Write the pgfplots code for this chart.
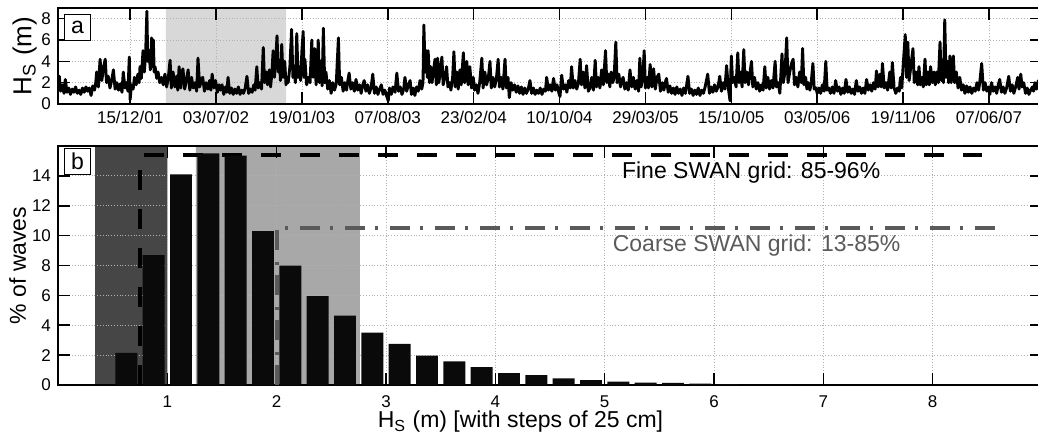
\documentclass[border=0pt]{standalone}
\usepackage{fontspec}
\setmainfont{Liberation Sans}
\usepackage{pgfplots}
\pgfplotsset{compat=1.18}

\definecolor{darkshade}{RGB}{70,70,70}
\definecolor{lightshade}{RGB}{168,168,168}
\definecolor{paleshade}{RGB}{216,216,216}
\definecolor{barblack}{RGB}{10,10,10}
\definecolor{coarsegray}{RGB}{90,90,90}

\pgfplotsset{
  panel/.style={
    scale only axis,
    width=492pt,
    axis line style={line width=1pt},
    tick style={line width=0.8pt, black},
    major tick length=6pt,
    tick align=inside,
    grid=major,
    major grid style={densely dotted, black!30, line width=0.4pt},
    tick label style={font=\fontsize{8.5}{10}\selectfont},
    label style={font=\fontsize{11.5}{13}\selectfont},
    /pgf/number format/assume math mode=true,
    set layers,
  },
}
\tikzset{
  boxlabel/.style={draw, line width=0.6pt, fill=white, font=\fontsize{11.5}{13}\selectfont,
    minimum width=13pt, minimum height=13pt, inner sep=1pt, anchor=north west},
}

\begin{document}
\begin{tikzpicture}

% (a) significant wave height time series, x = days since 15/12/01
\begin{axis}[panel, at={(0,140.5pt)}, anchor=south west, height=48pt,
  xmin=-168, xmax=2123.5, ymin=0, ymax=9,
  xtick={0,200,...,2000},
  xticklabels={15/12/01,03/07/02,19/01/03,07/08/03,23/02/04,10/10/04,29/03/05,15/10/05,03/05/06,19/11/06,07/06/07},
  ytick={0,2,4,6,8},
  ylabel={H\textsubscript{S} (m)},
  ylabel style={at={(axis description cs:-0.034,0.5)}, anchor=center, font=\fontsize{13}{15}\selectfont},
]
\addplot[on layer=axis background, fill=paleshade, draw=none]
  coordinates {(83,0) (83,9) (363,9) (363,0)} \closedcycle;
\addplot[black, line width=1.45pt, line join=round] coordinates {
(-168,1.6) (-165,2.6) (-162,1.2) (-158,1.8) (-154,1.0) (-151,2.3) (-147,1.1) (-143,1.5) (-139,0.9) (-135,1.4)
(-131,1.1) (-127,1.6) (-123,1.0) (-119,1.3) (-115,0.9) (-111,1.5) (-107,1.1) (-103,1.6) (-99,1.2) (-95,1.5)
(-91,0.8) (-87,1.7) (-83,1.3) (-80,2.0)
(-78,3.0) (-74,1.6) (-70,4.2) (-66,2.2) (-62,3.4) (-58,4.2) (-55,2.0) (-51,2.6) (-47,1.5) (-43,2.2)
(-39,3.2) (-35,1.4) (-31,2.0) (-27,1.3) (-23,1.9) (-19,1.1) (-16,3.0) (-12,1.5) (-9,2.0) (-5,1.2) (-2,4.4) (0,0.4)
(3,1.8) (7,1.4) (10,2.5) (14,1.8) (18,2.8) (21,2.0) (23,3.5) (26,2.4) (30,5.0) (33,3.0) (36,4.6) (39,8.7)
(41,4.0) (44,5.0) (47,3.2) (50,6.2) (52,3.5) (54,6.0) (56,3.0) (58,3.5) (62,2.4) (65,3.0) (69,2.0) (73,2.5)
(77,1.8) (81,2.8)
(85,1.6) (89,2.5) (93,4.1) (96,1.5) (100,3.0) (104,1.6) (108,2.6) (111,1.3) (114,3.5) (118,1.5) (120,2.8)
(123,3.3) (127,1.4) (131,2.2) (135,3.2) (139,1.3) (143,2.5) (147,1.5) (151,2.0) (155,1.2) (158,4.3) (162,1.6)
(166,2.3) (169,2.5) (173,1.2) (177,2.0) (181,1.4) (185,2.2) (188,1.3) (191,2.8) (195,1.5) (199,2.2) (203,1.1)
(207,1.8) (210,1.3) (214,1.8) (218,0.9) (222,1.6) (225,1.1) (228,2.5) (232,1.0) (236,1.5) (240,0.9) (244,1.4)
(248,1.0) (252,1.6) (256,0.9) (260,1.3) (264,1.0) (268,1.5) (272,2.6) (276,1.0) (280,1.4) (284,1.1) (288,1.8)
(291,1.3) (295,3.5) (298,1.5) (302,2.0) (306,1.4) (310,5.3) (313,2.0) (317,3.0) (320,1.8) (324,3.2) (327,1.6)
(330,2.8) (333,5.0) (336,2.5) (339,4.0) (342,6.4) (345,3.0) (348,4.0) (350,2.2) (353,5.6) (356,2.5) (360,4.0)
(363,1.8) (366,2.5) (368,2.0) (372,3.5) (376,7.0) (379,2.5) (382,3.0) (385,2.0) (388,6.6) (391,2.5) (394,3.5)
(397,2.2) (400,5.0)
(403,6.8) (405,2.5) (407,4.2) (411,1.8) (415,2.5) (419,2.0) (423,6.0) (426,2.5) (430,5.2) (433,1.8) (436,3.0)
(438,6.0) (441,2.0) (444,4.0) (447,1.7) (450,7.1) (453,2.0) (456,3.0) (460,1.4) (464,2.2) (468,1.0) (472,2.0)
(476,1.3) (480,1.9) (485,6.2) (488,1.8) (492,2.5) (496,1.2) (500,2.0) (504,1.3) (507,2.2) (510,2.9) (514,1.4)
(518,2.0) (522,1.2) (526,2.3) (530,1.3) (534,1.8) (538,1.0) (541,1.7) (545,2.2) (549,1.2) (553,1.8) (557,1.0)
(561,1.5) (565,2.8) (569,1.0) (573,1.6) (577,0.9) (581,1.4) (585,1.8) (589,0.9) (593,1.3) (597,0.8) (601,0.3)
(604,1.5) (608,0.9) (612,1.6) (617,1.1) (621,2.9) (625,1.2) (629,1.6) (633,0.9) (637,1.4) (640,2.5) (644,1.2)
(648,1.8) (652,2.2) (655,0.9) (659,1.5) (663,0.8) (667,1.6) (671,1.2) (675,2.2) (679,1.4) (682,2.0) (684,7.4)
(687,3.0) (690,5.0) (692,2.5) (694,5.0) (697,2.0) (700,3.5) (703,2.0) (706,3.0) (710,4.2) (713,1.8) (716,4.3)
(719,2.0) (722,3.0) (726,4.4) (729,1.8) (733,2.5) (737,3.5) (740,1.6) (744,2.0) (747,1.3) (751,2.5) (754,4.9)
(757,1.6) (761,3.0) (764,1.4) (768,3.2) (771,1.8) (776,4.8) (779,2.0) (784,4.0) (787,1.8) (791,3.5) (795,1.5)
(799,2.5)
(802,1.3) (806,1.8) (810,1.0) (814,2.0) (819,4.3) (822,1.5) (826,3.0) (830,1.8) (834,2.4) (838,4.0) (841,1.5)
(845,2.5) (849,1.6) (853,2.4) (857,4.2) (860,1.6) (864,2.5) (868,1.4) (873,4.2) (876,1.5) (880,2.5) (883,0.6)
(887,2.0) (891,1.3) (895,1.8) (899,1.1) (903,1.7) (907,1.0) (911,1.6) (915,0.9) (919,1.5) (923,1.0) (927,1.4)
(931,2.2) (935,1.0) (939,1.5) (943,0.9) (947,1.3) (951,1.0) (955,1.5) (959,0.9) (963,1.4) (967,1.2) (970,2.5)
(974,1.3) (978,1.8) (982,1.2) (986,2.4) (990,1.3) (994,1.8) (998,1.1) (1001,0.7)
(1005,2.7) (1009,1.4) (1013,1.8) (1017,1.1) (1021,2.2) (1025,1.5) (1028,3.5) (1032,1.5) (1036,2.2) (1040,1.4)
(1044,2.0) (1048,4.2) (1051,1.8) (1055,3.0) (1059,1.5) (1063,3.6) (1067,1.2) (1071,1.5) (1075,2.5) (1079,1.3)
(1083,4.1) (1086,1.6) (1090,2.5) (1094,1.5) (1098,3.2) (1102,1.8) (1107,5.0) (1110,2.0) (1114,2.8) (1117,1.6)
(1120,3.0) (1124,2.0) (1127,2.5) (1131,5.8) (1134,2.0) (1138,2.8) (1142,1.6) (1145,2.2) (1148,2.5) (1152,1.4)
(1156,2.0) (1160,1.3) (1164,3.2) (1168,1.6) (1172,2.5) (1176,1.4) (1180,2.2) (1184,1.2) (1187,4.3) (1190,1.6)
(1194,2.5) (1197,5.0) (1200,1.5)
(1204,2.5) (1207,1.5) (1211,3.7) (1215,1.6) (1219,3.3) (1223,1.4) (1227,2.5) (1231,2.8) (1235,1.2) (1239,2.0)
(1243,1.3) (1246,2.0) (1249,2.4) (1253,1.1) (1257,1.7) (1261,1.0) (1265,1.5) (1269,0.9) (1273,1.6) (1277,1.0)
(1281,1.4) (1285,0.8) (1289,1.5) (1293,1.0) (1299,2.6) (1303,1.0) (1307,1.4) (1311,0.8) (1315,1.3) (1319,0.9)
(1323,1.5) (1327,0.8) (1331,1.3) (1335,1.0) (1339,1.6) (1345,2.8) (1349,1.0) (1353,1.6) (1357,1.1) (1361,1.8)
(1365,1.2) (1369,1.6) (1373,2.6) (1377,1.2) (1381,2.0) (1385,1.4) (1389,3.6) (1393,1.5) (1397,0.3) (1400,4.5)
(1403,2.0) (1407,2.5) (1411,1.6) (1415,4.8) (1418,2.0) (1422,3.0) (1425,1.6) (1429,5.1) (1432,2.0) (1436,3.0)
(1440,1.8) (1443,2.8) (1447,4.0) (1450,1.6) (1454,2.5) (1458,1.4) (1462,2.0) (1466,1.2) (1470,1.8) (1474,1.3)
(1478,3.5) (1481,1.5) (1485,2.5) (1489,1.4) (1493,2.2) (1497,1.5) (1502,4.0) (1505,1.6) (1509,2.0) (1513,1.0)
(1518,4.7) (1521,2.0) (1525,3.0) (1529,6.2) (1532,2.0) (1536,3.0) (1540,3.8) (1544,4.2) (1547,1.8) (1551,2.5)
(1555,1.6) (1559,3.0) (1563,2.0) (1566,5.2) (1569,1.8) (1573,2.5) (1576,1.4) (1579,2.0) (1583,1.3) (1586,2.0)
(1590,3.8) (1593,1.4) (1597,1.5) (1600,1.0)
(1604,1.5) (1608,1.0) (1612,1.8) (1616,1.2) (1620,4.0) (1623,1.3) (1627,1.5) (1631,1.0) (1635,1.6) (1639,1.0)
(1643,2.2) (1647,1.2) (1651,1.6) (1655,0.9) (1659,1.5) (1663,1.0) (1667,2.3) (1671,1.1) (1675,1.6) (1679,1.0)
(1683,1.4) (1687,0.9) (1691,2.2) (1695,1.2) (1699,1.6) (1703,1.0) (1707,1.5) (1711,1.0) (1715,2.3) (1719,1.3)
(1723,1.8) (1727,1.2) (1731,2.0) (1735,1.4) (1738,3.1) (1742,1.6) (1746,2.8) (1749,1.6) (1752,3.8) (1756,1.5)
(1760,2.0) (1764,1.3) (1769,3.0) (1772,1.5) (1775,3.9) (1779,1.5) (1783,1.0) (1787,1.5) (1791,1.2) (1794,2.5)
(1797,1.5) (1800,3.5)
(1805,6.5) (1808,2.5) (1811,5.8) (1814,2.2) (1818,3.5) (1823,5.2) (1826,2.0) (1830,3.0) (1834,1.8) (1837,3.5)
(1840,1.8) (1844,2.5) (1847,1.6) (1851,4.2) (1854,1.8) (1858,3.0) (1861,1.8) (1864,3.5) (1868,2.0) (1872,3.0)
(1875,1.8) (1878,3.0) (1882,2.0) (1886,5.8) (1889,2.2) (1892,3.0) (1894,2.0) (1897,7.9) (1900,2.5) (1904,4.0)
(1906,2.0) (1909,4.5) (1912,2.0) (1917,4.5) (1920,2.0) (1924,3.0) (1928,1.5) (1932,2.5) (1936,1.3) (1940,1.8)
(1944,1.0) (1948,1.7) (1952,1.1) (1956,1.6) (1960,1.0) (1964,1.5) (1968,1.2) (1972,2.0) (1976,1.3) (1979,2.2)
(1983,3.8) (1987,1.3) (1991,2.0) (1995,1.2) (1999,1.6) (2002,0.9)
(2006,2.0) (2010,1.2) (2014,1.6) (2018,1.0) (2021,1.7) (2025,2.3) (2029,1.1) (2033,1.6) (2037,1.0) (2041,1.5)
(2046,2.6) (2050,1.2) (2054,1.8) (2058,1.0) (2062,1.6) (2067,2.5) (2070,1.4) (2074,2.8) (2077,1.6) (2081,2.0)
(2085,1.0) (2089,1.5) (2093,0.9) (2097,1.3) (2101,1.6) (2104,1.2) (2107,2.0) (2111,1.4) (2115,2.2) (2119,1.3)
(2123,1.8)
};
\node[boxlabel] at (rel axis cs:0,1) [xshift=3pt, yshift=-3pt] {a};
\end{axis}

% (b) histogram of Hs in 25 cm bins
\begin{axis}[panel, at={(0,0)}, anchor=south west, height=119.5pt,
  xmin=0, xmax=9, ymin=0, ymax=16,
  xtick={1,2,...,8}, ytick={0,2,...,14},
  xticklabel style={yshift=-2pt},
  xlabel={H\textsubscript{S} (m) [with steps of 25 cm]},
  xlabel style={at={(axis description cs:0.47,0)}, anchor=center, yshift=-18.5pt},
  ylabel={\% of waves},
  ylabel style={at={(axis description cs:-0.041,0.5)}, anchor=center},
]
\addplot[on layer=axis background, fill=darkshade, draw=none]
  coordinates {(0.34,0) (0.34,16) (1.0,16) (1.0,0)} \closedcycle;
\addplot[on layer=axis background, fill=lightshade, draw=none]
  coordinates {(1.26,0) (1.26,16) (2.76,16) (2.76,0)} \closedcycle;
\addplot[black, line width=2pt, dash pattern=on 10pt off 9.5pt]
  coordinates {(0.75,0) (0.75,15.4) (8.45,15.4)};
\addplot[coarsegray, line width=2pt, dash pattern=on 10pt off 5pt on 1.7pt off 5.8pt]
  coordinates {(2.0,0) (2.0,10.5) (8.57,10.5)};
\addplot[ybar, bar width=0.2, bar shift=0pt, fill=barblack, draw=none] coordinates {
(0.625,2.15) (0.875,8.7) (1.125,14.1) (1.375,15.5) (1.625,15.35) (1.875,10.3) (2.125,8.0)
(2.375,5.95) (2.625,4.65) (2.875,3.5) (3.125,2.75) (3.375,1.97) (3.625,1.58) (3.875,1.19)
(4.125,0.79) (4.375,0.67) (4.625,0.45) (4.875,0.32) (5.125,0.22) (5.375,0.16) (5.625,0.15)
(5.875,0.09) (6.125,0.06) (6.375,0.03) (6.625,0.02)
};
\node[font=\fontsize{11.5}{13}\selectfont] at (axis cs:6.34,14.25) {Fine SWAN grid: 85-96\%};
\node[font=\fontsize{11.5}{13}\selectfont, text=coarsegray] at (axis cs:6.39,9.34) {Coarse SWAN grid: 13-85\%};
\node[boxlabel] at (rel axis cs:0,1) [xshift=3pt, yshift=-1pt] {b};
\end{axis}

\pgfresetboundingbox
\path[use as bounding box] (-29pt,-25.5pt) rectangle (490pt,192.5pt);
\end{tikzpicture}
\end{document}
